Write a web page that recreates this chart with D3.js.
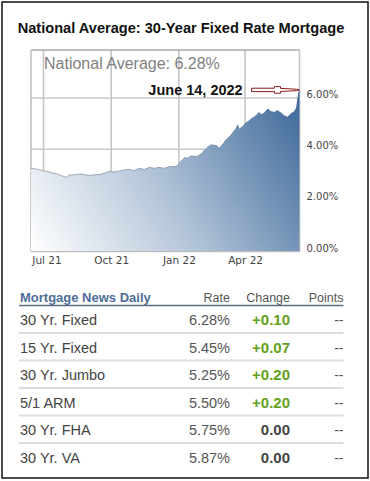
<!DOCTYPE html>
<html><head><meta charset="utf-8">
<script src="https://cdn.jsdelivr.net/npm/d3@7"></script>
<style>
html,body{margin:0;padding:0;background:#fff;}
svg{display:block;}
</style></head>
<body>
<svg id="chart" width="370" height="481"></svg>
<script>
// ---------- data ----------
const title = "National Average: 30-Year Fixed Rate Mortgage";
const dates = ["2021-06-14","2021-06-24","2021-06-30","2021-07-07","2021-07-14","2021-07-20","2021-07-27","2021-08-01","2021-08-05","2021-08-12","2021-08-21","2021-08-28","2021-09-03","2021-09-10","2021-09-17","2021-09-24","2021-09-28","2021-10-05","2021-10-12","2021-10-19","2021-10-26","2021-11-01","2021-11-08","2021-11-15","2021-11-22","2021-11-29","2021-12-05","2021-12-12","2021-12-19","2021-12-26","2021-12-30","2022-01-03","2022-01-09","2022-01-13","2022-01-18","2022-01-25","2022-02-01","2022-02-05","2022-02-10","2022-02-14","2022-02-21","2022-02-25","2022-03-02","2022-03-06","2022-03-11","2022-03-15","2022-03-20","2022-03-22","2022-03-24","2022-03-29","2022-04-02","2022-04-07","2022-04-11","2022-04-16","2022-04-20","2022-04-23","2022-04-27","2022-05-02","2022-05-06","2022-05-11","2022-05-15","2022-05-20","2022-05-24","2022-05-29","2022-06-02","2022-06-07","2022-06-10","2022-06-13","2022-06-14"];
const rates = [3.25,3.21,3.16,3.12,3.06,3.03,2.95,2.90,2.99,3.00,3.03,2.99,2.98,3.00,3.02,3.08,3.14,3.11,3.15,3.19,3.21,3.16,3.25,3.21,3.29,3.25,3.29,3.25,3.32,3.32,3.35,3.50,3.68,3.65,3.74,3.71,3.82,3.97,4.10,4.17,4.14,4.04,4.20,4.36,4.49,4.63,4.82,4.95,4.78,4.89,5.02,5.12,5.22,5.31,5.44,5.35,5.41,5.57,5.47,5.44,5.51,5.41,5.31,5.25,5.38,5.47,5.61,6.20,6.28];
const xTickDates = ["2021-07-01","2021-10-01","2022-01-01","2022-04-01"];
const yTicks = [0, 2, 4, 6];
const currentLabel = "National Average: 6.28%";
const dateLabel = "June 14, 2022";

const tableSource = "Mortgage News Daily";
const tableHeaders = ["Rate", "Change", "Points"];
const products = ["30 Yr. Fixed","15 Yr. Fixed","30 Yr. Jumbo","5/1 ARM","30 Yr. FHA","30 Yr. VA"];
const productRates = ["6.28%","5.45%","5.25%","5.50%","5.75%","5.87%"];
const productChanges = ["+0.10","+0.07","+0.20","+0.20","0.00","0.00"];
const productPoints = ["--","--","--","--","--","--"];

// ---------- drawing ----------
(function () {
const parse = d3.timeParse("%Y-%m-%d");
const series = dates.map((d, i) => ({date: parse(d), value: rates[i]}));
const svg = d3.select("#chart");

// outer frame
svg.append("rect").attr("x", 2).attr("y", 2).attr("width", 366).attr("height", 476)
  .attr("fill", "none").attr("stroke", "#111").attr("stroke-width", 1.5);

// title
svg.append("text").attr("x", 181).attr("y", 33.3).attr("text-anchor", "middle")
  .attr("font-family", "'Liberation Sans', Arial, sans-serif").attr("font-weight", "bold")
  .attr("font-size", "14.6px").attr("fill", "#111").text(title);

const pL = 31, pR = 299.5, pT = 50, pB = 251.5;
const x = d3.scaleTime().domain([parse("2021-06-14"), parse("2022-06-14")]).range([pL, pR]);
const y = d3.scaleLinear().domain([0, 7.88]).range([pB, pT]);

const defs = svg.append("defs");
const grad = defs.append("linearGradient").attr("id", "areaGrad")
  .attr("gradientUnits", "userSpaceOnUse")
  .attr("x1", pL).attr("y1", pB).attr("x2", pR).attr("y2", 90);
grad.append("stop").attr("offset", 0).attr("stop-color", "#ffffff");
grad.append("stop").attr("offset", 0.45).attr("stop-color", "#b4c5d9");
grad.append("stop").attr("offset", 1).attr("stop-color", "#3b6798");
const lineGrad = defs.append("linearGradient").attr("id", "lineGrad")
  .attr("gradientUnits", "userSpaceOnUse")
  .attr("x1", pL).attr("y1", 0).attr("x2", pR).attr("y2", 0);
lineGrad.append("stop").attr("offset", 0).attr("stop-color", "#a3a8ae");
lineGrad.append("stop").attr("offset", 0.55).attr("stop-color", "#8fa1b6");
lineGrad.append("stop").attr("offset", 1).attr("stop-color", "#3f6b9c");

const plot = svg.append("g");
// gridlines
plot.selectAll("line.vg").data(xTickDates.map(parse)).join("line")
  .attr("x1", d => x(d)).attr("x2", d => x(d)).attr("y1", pT).attr("y2", pB)
  .attr("stroke", "#c6c6c6").attr("stroke-width", 1.6);
plot.selectAll("line.hg").data(yTicks).join("line")
  .attr("x1", pL).attr("x2", pR).attr("y1", d => y(d)).attr("y2", d => y(d))
  .attr("stroke", "#c6c6c6").attr("stroke-width", 1.6);
// frame lines
plot.append("line").attr("x1", pL).attr("x2", pR).attr("y1", pT).attr("y2", pT)
  .attr("stroke", "#aaaaaa").attr("stroke-width", 1.4);
plot.append("line").attr("x1", pL).attr("x2", pL).attr("y1", pT).attr("y2", pB)
  .attr("stroke", "#c0c0c0").attr("stroke-width", 1.6);
plot.append("line").attr("x1", pR).attr("x2", pR).attr("y1", pT).attr("y2", pB)
  .attr("stroke", "#c6c6c6").attr("stroke-width", 1.6);

// area
const area = d3.area().x(d => x(d.date)).y0(pB).y1(d => y(d.value));
plot.append("path").datum(series).attr("d", area).attr("fill", "url(#areaGrad)");
const line = d3.line().x(d => x(d.date)).y(d => y(d.value));
plot.append("path").datum(series).attr("d", line).attr("fill", "none")
  .attr("stroke", "url(#lineGrad)").attr("stroke-width", 1);
plot.append("line").attr("x1", pL).attr("x2", pR).attr("y1", pB).attr("y2", pB)
  .attr("stroke", "#bbbbbb").attr("stroke-width", 1);

// axes
const axisFont = "'DejaVu Sans', Verdana, sans-serif";
const yAxis = svg.append("g").attr("transform", `translate(${pR},0)`)
  .call(d3.axisRight(y).tickValues(yTicks).tickSize(0).tickPadding(7)
    .tickFormat(d => d3.format(".2f")(d) + "%"));
yAxis.select(".domain").remove();
yAxis.selectAll("text").attr("font-family", axisFont).attr("font-size", "10px")
  .attr("fill", "#444").attr("dy", "-0.05em");

const xAxis = svg.append("g").attr("transform", `translate(0,${pB})`)
  .call(d3.axisBottom(x).tickValues(xTickDates.map(parse)).tickSize(0).tickPadding(6)
    .tickFormat(d3.timeFormat("%b %y")));
xAxis.select(".domain").remove();
xAxis.selectAll("text").attr("font-family", axisFont).attr("font-size", "10.5px")
  .attr("fill", "#444").attr("dy", "0.62em");
xAxis.selectAll(".tick").filter((d, i) => i === 0).select("text").attr("dx", "3px");

// annotations
svg.append("text").attr("x", 44).attr("y", 68.5)
  .attr("font-family", "'Liberation Sans', Arial, sans-serif").attr("font-size", "16px")
  .attr("fill", "#808080").text(currentLabel);
svg.append("text").attr("x", 242.7).attr("y", 94.5).attr("text-anchor", "end")
  .attr("font-family", "'Liberation Sans', Arial, sans-serif").attr("font-weight", "bold")
  .attr("font-size", "14.5px").attr("fill", "#111").text(dateLabel);

const last = series[series.length - 1];
const tx = x(last.date), ty = y(last.value) - 1;
const arrowPts = [[-48,-1.7],[-25,-1.7],[-25,-3.3],[-19,-3.3],[-19,-1.6],[-3,-0.7],[0,0],[-3,0.7],[-19,1.6],[-19,3.3],[-25,3.3],[-25,1.7],[-48,1.7]];
svg.append("path")
  .attr("d", d3.line()(arrowPts.map(p => [tx + p[0], ty + p[1]])) + "Z")
  .attr("fill", "#fff").attr("stroke", "#8e1c1c").attr("stroke-width", 1);

// ---------- table ----------
const tFont = "'Liberation Sans', Arial, sans-serif";
const tLeft = 20, tRight = 343.5, rateX = 230, changeX = 290;
const tbl = svg.append("g");
tbl.append("text").attr("x", tLeft).attr("y", 302).attr("font-family", tFont)
  .attr("font-weight", "bold").attr("font-size", "13px").attr("fill", "#4e6d98").text(tableSource);
const headerX = [rateX, changeX, tRight];
tbl.selectAll("text.h").data(tableHeaders).join("text")
  .attr("x", (d, i) => headerX[i]).attr("y", 302).attr("text-anchor", "end")
  .attr("font-family", tFont).attr("font-size", "12.5px").attr("fill", "#555").text(d => d);
tbl.append("line").attr("x1", tLeft - 1).attr("x2", tRight).attr("y1", 305.5).attr("y2", 305.5)
  .attr("stroke", "#5b6b80").attr("stroke-width", 1.6);

const rowY = d3.scaleLinear().domain([0, 1]).range([325, 352.5]);
const rows = tbl.selectAll("g.row").data(products).join("g")
  .attr("transform", (d, i) => `translate(0,${rowY(i)})`);
rows.append("text").attr("x", tLeft).attr("font-family", tFont).attr("font-size", "14.5px")
  .attr("fill", "#444").text(d => d);
rows.append("text").attr("x", rateX).attr("text-anchor", "end").attr("font-family", tFont)
  .attr("font-size", "14.5px").attr("fill", "#555").text((d, i) => productRates[i]);
rows.append("text").attr("x", changeX).attr("text-anchor", "end").attr("font-family", tFont)
  .attr("font-weight", "bold").attr("font-size", "15px")
  .attr("fill", (d, i) => productChanges[i].startsWith("+") ? "#64a020" : "#444")
  .text((d, i) => productChanges[i]);
rows.append("text").attr("x", tRight).attr("text-anchor", "end").attr("font-family", tFont)
  .attr("font-size", "14px").attr("fill", "#555").text((d, i) => productPoints[i]);
rows.filter((d, i) => i < products.length - 1).append("line")
  .attr("x1", tLeft - 1).attr("x2", tRight).attr("y1", 8).attr("y2", 8)
  .attr("stroke", "#dcdcdc").attr("stroke-width", 1.8);
})();
</script>
</body></html>
